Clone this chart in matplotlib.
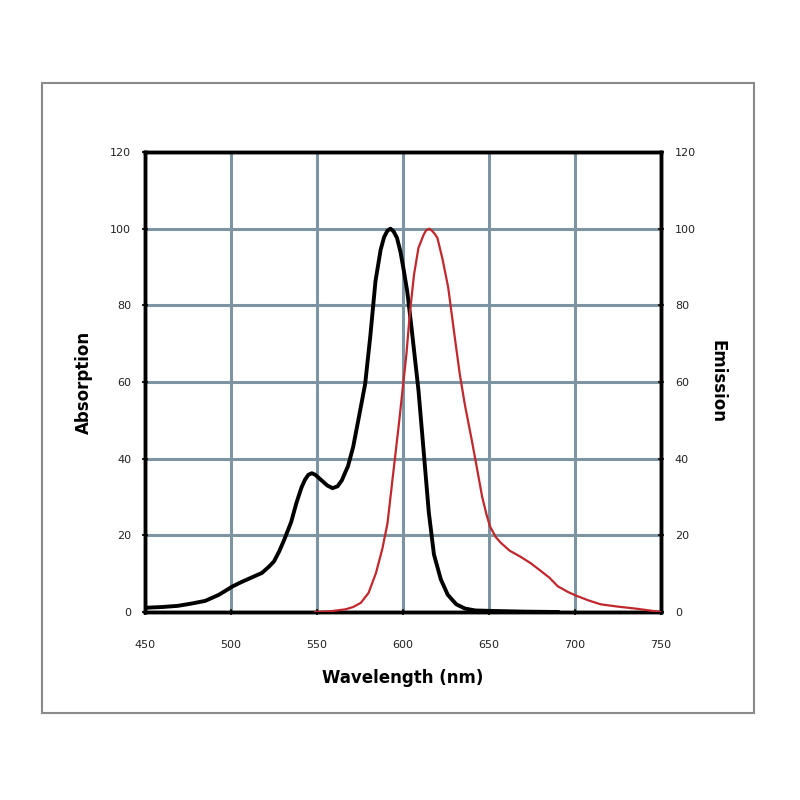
import matplotlib.pyplot as plt
from matplotlib.patches import Rectangle

# absorption spectrum (black)
abs_wl = [450, 460, 469, 477, 485, 493, 501, 506, 512, 518, 522, 525, 528, 531, 535, 538, 541,
          543, 545, 547, 549, 551, 553.5, 556, 559, 562, 564.5, 566, 568, 571, 574, 578, 581,
          584, 587, 589, 591, 592.7, 594.5, 596.5, 598.5, 600.5, 602.5, 605, 609, 612, 615,
          618, 622, 626, 631, 636, 642, 650, 670, 690]
abs_val = [1.1, 1.3, 1.6, 2.2, 2.9, 4.5, 6.7, 7.8, 9.0, 10.2, 11.8, 13.2, 15.8, 18.9, 23.5,
           28.4, 32.5, 34.5, 35.8, 36.2, 35.8, 35.0, 34.0, 33.0, 32.3, 32.8, 34.4, 36.0, 38.0,
           43.0, 50.0, 59.5, 72.0, 86.3, 94.5, 97.8, 99.5, 100, 99.3, 97.6, 94.0, 89.0, 83.5,
           74.0, 57.8, 42.0, 26.0, 15.0, 8.5, 4.5, 2.0, 0.9, 0.4, 0.3, 0.1, 0.0]

# emission spectrum (red)
em_wl = [549, 558, 566.6, 571, 575.5, 580, 584.3, 588, 591, 594, 597.6, 600, 602, 604, 606.4,
         609, 612, 613.5, 615.2, 617, 618.5, 620, 623, 626.3, 630, 633, 636, 640, 643, 646,
         648.5, 650.6, 654, 657, 662, 668, 674, 679, 685, 690, 696, 701, 708, 715, 725, 735, 750]
em_val = [0.0, 0.2, 0.7, 1.3, 2.4, 5.0, 10.2, 16.5, 23.2, 35.0, 49.0, 59.0, 67.3, 78.0, 88.0,
          95.0, 98.4, 99.6, 100, 99.4, 98.6, 97.6, 92.0, 84.6, 72.0, 62.1, 54.0, 44.8, 37.5,
          30.1, 25.5, 22.3, 19.5, 18.0, 16.0, 14.5, 12.8, 11.1, 9.0, 6.7, 5.2, 4.2, 3.0, 2.0,
          1.4, 0.9, 0.0]

x_ticks = [450, 500, 550, 600, 650, 700, 750]
y_ticks = [0, 20, 40, 60, 80, 100, 120]

grid_color = '#7d95a2'

fig = plt.figure(figsize=(8, 8), dpi=100)

# outer frame around the chart
fig.patches.append(Rectangle((42 / 800, 1 - 713 / 800), 712 / 800, 630 / 800,
                             transform=fig.transFigure, fill=False,
                             edgecolor='#8a8a8a', linewidth=1.5))

ax = fig.add_axes([145 / 800, 1 - 612 / 800, 516 / 800, 460 / 800])
ax.set_xlim(450, 750)
ax.set_ylim(0, 120)
ax.set_xticks(x_ticks)
ax.set_yticks(y_ticks)
ax.grid(True, color=grid_color, linewidth=2.2)
ax.set_axisbelow(True)

ax.plot(abs_wl, abs_val, color='black', linewidth=2.8, zorder=4,
        solid_joinstyle='round')

ax2 = ax.twinx()
ax2.set_ylim(0, 120)
ax2.set_yticks(y_ticks)
ax2.plot(em_wl, em_val, color='#c0282d', linewidth=1.6, zorder=3,
         solid_joinstyle='round')

for a in (ax, ax2):
    for s in a.spines.values():
        s.set_linewidth(2.5)
        s.set_color('black')
    a.tick_params(axis='both', labelsize=8, length=4, width=1.5, direction='inout',
                  colors='#222222')

ax.tick_params(axis='x', pad=18)
ax.tick_params(axis='y', pad=8)
ax2.tick_params(axis='y', pad=8)

ax.set_xlabel('Wavelength (nm)', fontsize=12, fontweight='bold', labelpad=14)
ax.set_ylabel('Absorption', fontsize=12, fontweight='bold', labelpad=12)
ax2.set_ylabel('Emission', fontsize=12, fontweight='bold', rotation=-90, labelpad=22)

plt.savefig('out.png', dpi=100)
